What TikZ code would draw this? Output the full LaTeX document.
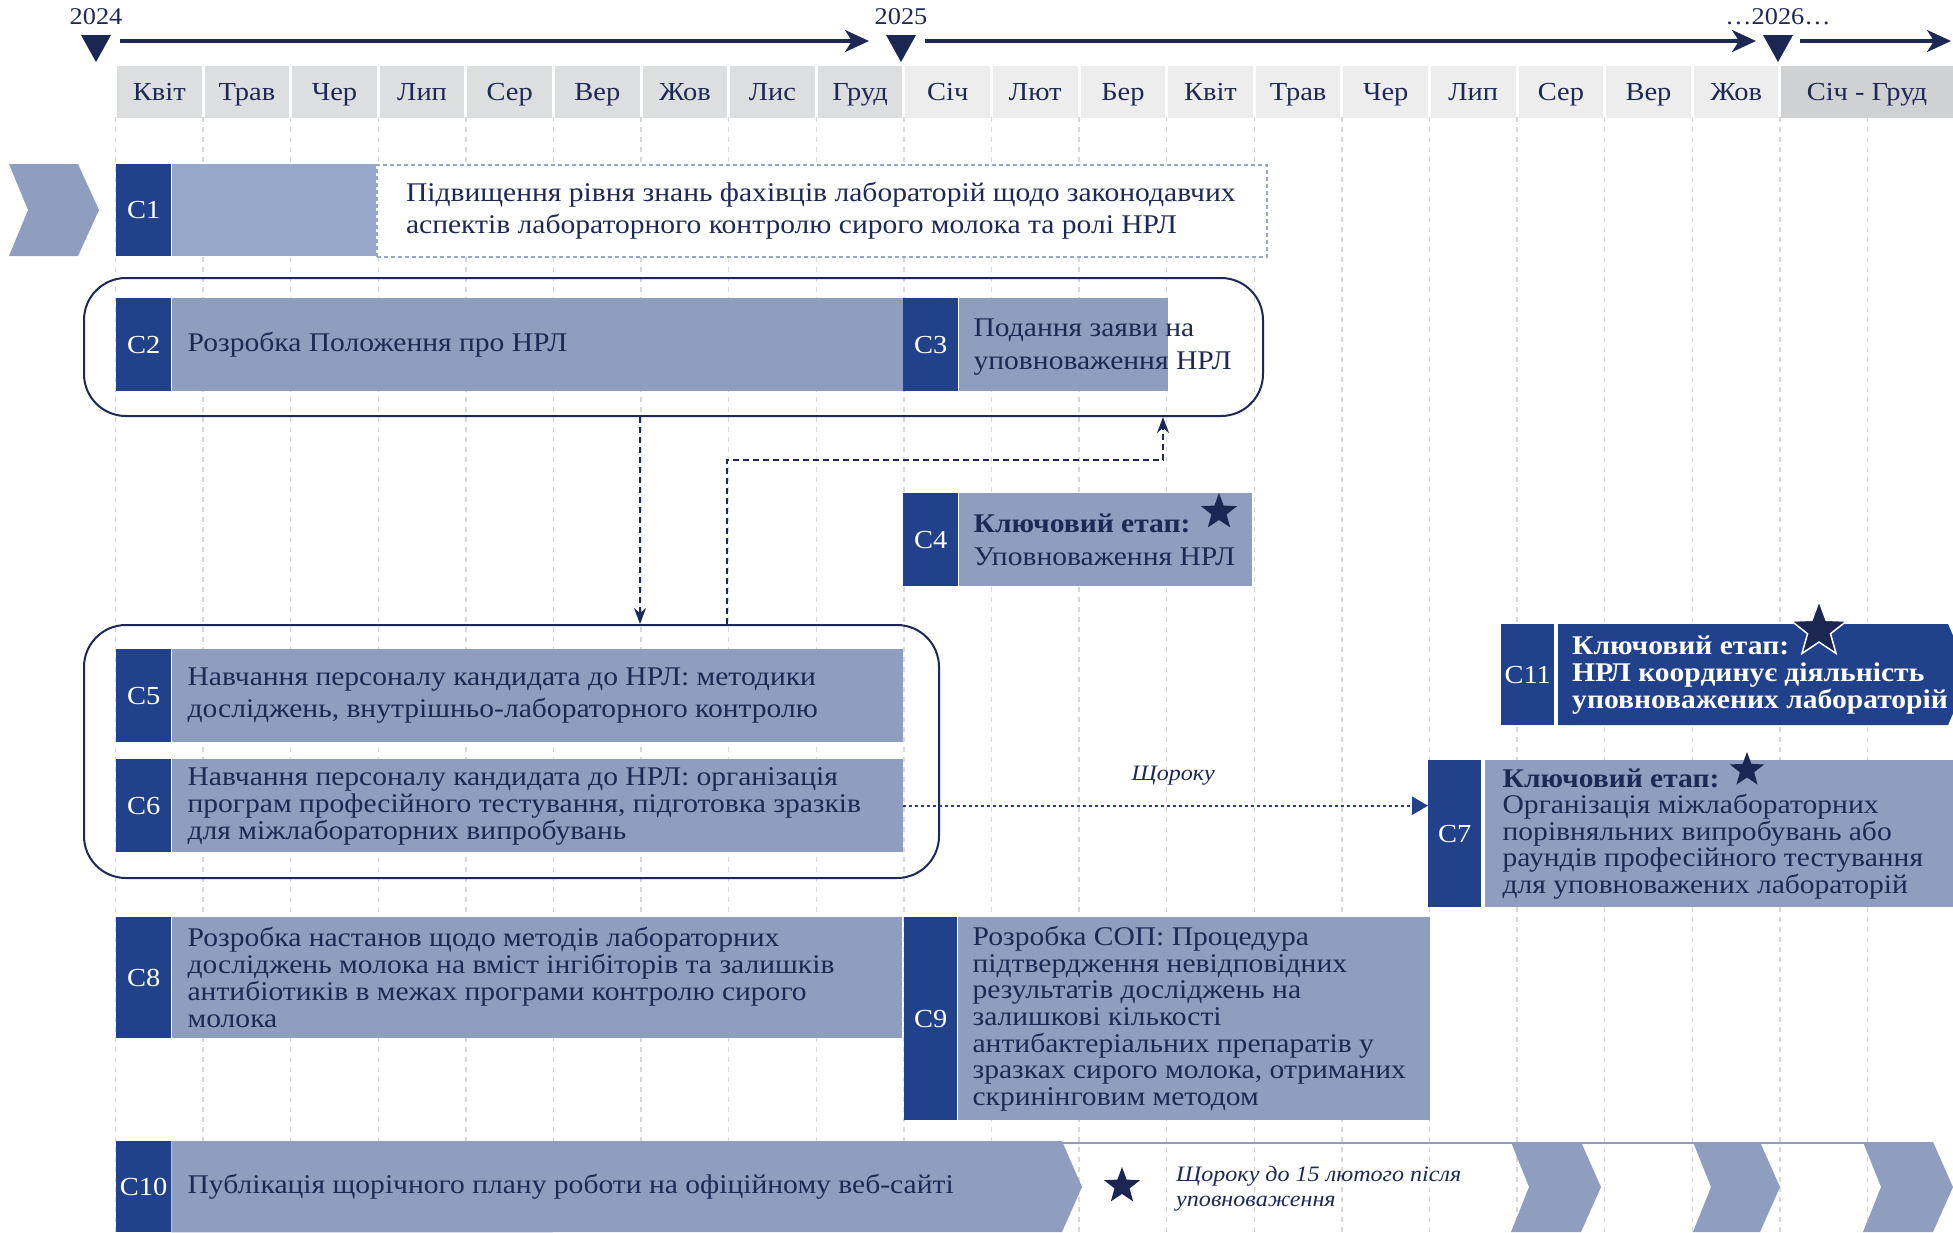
\documentclass[tikz,border=0pt]{standalone}
\usepackage{fontspec}
\setmainfont{Liberation Serif}[FakeStretch=1.095]
\usetikzlibrary{arrows.meta,shapes.geometric}

\definecolor{inkblue}{RGB}{29,41,84}
\definecolor{labblue}{RGB}{34,65,139}
\definecolor{barblue}{RGB}{143,157,190}
\definecolor{paleblue}{RGB}{152,168,203}
\definecolor{starblue}{RGB}{27,39,82}
\definecolor{headA}{RGB}{221,222,224}
\definecolor{headB}{RGB}{237,237,237}
\definecolor{headC}{RGB}{208,209,211}
\definecolor{gridgray}{RGB}{216,216,216}

\tikzset{
    labbox/.style={fill=labblue, text=white, anchor=north west, inner sep=0pt, font=\fontsize{26}{27}\selectfont},
    barbox/.style={fill=barblue, anchor=north west, inner sep=0pt},
    bartext/.style={anchor=west, align=left, text=inkblue, inner sep=0pt},
    grp/.style={draw=inkblue, line width=2pt, rounded corners=42pt, anchor=north west, inner sep=0pt},
    flow/.style={draw=inkblue, line width=1.8pt, dash pattern=on 6pt off 4pt, -{Stealth[length=16pt,width=12pt]}},
    yearly/.style={draw=labblue, line width=2.2pt, dash pattern=on 3pt off 3pt, -{Triangle[length=16pt,width=18pt]}},
    milestone/.style={star, star points=5, star point ratio=2.4, fill=starblue, inner sep=0pt},
    month/.style={minimum height=52pt, inner sep=0pt, text=inkblue, font=\fontsize{26}{28}\selectfont},
    yeararrow/.style={draw=inkblue, line width=3.5pt, -{Stealth[length=24pt,width=22pt,inset=7pt]}},
    note/.style={text=inkblue, inner sep=0pt, font=\fontsize{22}{25}\selectfont\itshape},
}

\begin{document}
\begin{tikzpicture}[x=1pt, y=-1pt]
    \useasboundingbox (0,0) rectangle (1953,1232);
    \clip (0,0) rectangle (1953,1232);

    \foreach \k in {0,...,21}
        \draw[gridgray, line width=1.3pt, dash pattern=on 5pt off 5pt] (115.5+87.6*\k,117) -- (115.5+87.6*\k,1232);

    \foreach \x/\yr [count=\j] in {96/2024,901/2025,1778/{\ldots2026\ldots}} {
            \coordinate (t\j) at (\x,35);
            \fill[starblue] (t\j) ++(-15,0) -- ++(30,0) -- ++(-15,27) -- cycle;
            \node[text=inkblue, font=\fontsize{24}{26}\selectfont] (yr\j) at (\x,17) {\yr};
        }
    \coordinate (tend) at (1951,41);
    \draw[yeararrow] ([shift={(24,6)}]t1) -- ([shift={(-32,6)}]t2);
    \draw[yeararrow] ([shift={(24,6)}]t2) -- ([shift={(-22,6)}]t3);
    \draw[yeararrow] ([shift={(22,6)}]t3) -- (tend);

    \foreach \m [count=\i from 0] in {Квіт,Трав,Чер,Лип,Сер,Вер,Жов,Лис,Груд,Січ,Лют,Бер,Квіт,Трав,Чер,Лип,Сер,Вер,Жов} {
            \ifnum\i<9 \def\shade{headA}\else\def\shade{headB}\fi
            \node[month, fill=\shade, minimum width=84.6pt, text depth=0pt, text height=0pt] (m\i) at (159.3+87.6*\i,91.5) {\raisebox{-9pt}{\m}};
        }
    \node[month, fill=headC, minimum width=172pt, text depth=0pt, text height=0pt] (m19) at (1867,91.5) {\raisebox{-9pt}{Січ - Груд}};

    \fill[barblue] (9,164) -- (78,164) -- (99,210) -- (78,256) -- (9,256) -- (28,210) -- cycle;
    \node[labbox, minimum width=55pt, minimum height=92pt] (c1l) at (116,164) {C1};
    \node[barbox, fill=paleblue, minimum width=204pt, minimum height=92pt] (c1b) at (c1l.north east) {};
    \node[anchor=north west, draw=paleblue, fill=white, line width=2.2pt, dash pattern=on 4pt off 3pt, minimum width=890pt, minimum height=92pt, inner sep=0pt] (c1d) at (c1b.north east) {};

    \foreach \n/\x/\y/\lw/\gap/\bw/\h in {2/116/298/55/0/732/93, 3/903/298/55/0/209/93, 4/903/493/55/0/293/93,
            5/116/649/55/0/731/93, 6/116/759/55/0/731/93, 7/1428/760/53/3/469/147,
            8/116/917/55/0/730/121, 9/904/917/53/0/472/203} {
            \node[labbox, minimum width=\lw pt, minimum height=\h pt] (c\n l) at (\x,\y) {C\n};
            \node[barbox, minimum width=\bw pt, minimum height=\h pt] (c\n b) at ([xshift=\gap pt]c\n l.north east) {};
        }

    \node[labbox, minimum width=55pt, minimum height=91pt] (c10l) at (116,1141) {C10};
    \fill[barblue] (c10l.north east) -- (1062,1141) -- (1082,1187) -- (1062,1232) -- (c10l.south east) -- cycle;
    \foreach \a/\b in {1511/1581, 1693/1760, 1863/1933}
        \fill[barblue] (\a,1142) -- (\b,1142) -- (\b+20,1187) -- (\b,1232) -- (\a,1232) -- (\a+18,1187) -- cycle;
    \draw[barblue, line width=2.5pt] (1062,1143) -- (1933,1143);

    \node[labbox, minimum width=53pt, minimum height=101pt] (c11l) at (1501,624) {C11};
    \fill[labblue] (1558,624) -- (1948,624) -- (1970,674.5) -- (1948,725) -- (1558,725) -- cycle;

    \node[grp, minimum width=1179pt, minimum height=138pt] (g23) at (83,277) {};
    \node[grp, minimum width=855pt, minimum height=253pt] (g56) at (83,624) {};

    \node[bartext, font=\fontsize{27}{32}\selectfont] (c1t) at ([xshift=30pt]c1d.west) {Підвищення рівня знань фахівців лабораторій щодо законодавчих\\аспектів лабораторного контролю сирого молока та ролі НРЛ};
    \node[bartext, font=\fontsize{27}{32}\selectfont] (c2t) at ([xshift=16pt]c2b.west) {Розробка Положення про НРЛ};
    \node[bartext, font=\fontsize{27}{33}\selectfont] (c3t) at ([xshift=15pt,yshift=-2pt]c3b.west) {Подання заяви на\\уповноваження НРЛ};
    \node[bartext, font=\fontsize{27}{33}\selectfont] (c4t) at ([xshift=15pt]c4b.west) {\textbf{Ключовий етап:}\\Уповноваження НРЛ};
    \node[bartext, font=\fontsize{27}{32}\selectfont] (c5t) at ([xshift=16pt]c5b.west) {Навчання персоналу кандидата до НРЛ: методики\\досліджень, внутрішньо-лабораторного контролю};
    \node[bartext, font=\fontsize{27}{27}\selectfont] (c6t) at ([xshift=16pt,yshift=-1pt]c6b.west) {Навчання персоналу кандидата до НРЛ: організація\\програм професійного тестування, підготовка зразків\\для міжлабораторних випробувань};
    \node[bartext, font=\fontsize{27}{26.5}\selectfont] (c7t) at ([xshift=18pt]c7b.west) {\textbf{Ключовий етап:}\\Організація міжлабораторних\\порівняльних випробувань або\\раундів професійного тестування\\для уповноважених лабораторій};
    \node[bartext, font=\fontsize{27}{27}\selectfont] (c8t) at ([xshift=16pt]c8b.west) {Розробка настанов щодо методів лабораторних\\досліджень молока на вміст інгібіторів та залишків\\антибіотиків в межах програми контролю сирого\\молока};
    \node[bartext, font=\fontsize{27}{26.7}\selectfont] (c9t) at ([xshift=15pt]c9b.west) {Розробка СОП: Процедура\\підтвердження невідповідних\\результатів досліджень на\\залишкові кількості\\антибактеріальних препаратів у\\зразках сирого молока, отриманих\\скринінговим методом};
    \node[bartext, font=\fontsize{27}{27}\selectfont] (c10t) at ([xshift=16pt]c10l.east) {Публікація щорічного плану роботи на офіційному веб-сайті};
    \node[bartext, text=white, font=\fontsize{27}{27}\selectfont\bfseries] (c11t) at (1572,675) {Ключовий етап:\\НРЛ координує діяльність\\уповноважених лабораторій};
    \node[note, anchor=west, align=left] (c10n) at (1176,1189) {Щороку до 15 лютого після\\уповноваження};

    \node[milestone, minimum size=38pt] (s4) at (1219,512) {};
    \node[milestone, minimum size=36pt] (s7) at (1747,770) {};
    \node[milestone, minimum size=58pt, draw=white, line width=1.5pt] (s11) at (1819,630) {};
    \node[milestone, minimum size=38pt] (s10) at (1122,1186) {};

    \coordinate (dn) at (640,0);
    \coordinate (up) at (727,0);
    \coordinate (upr) at (1163,0);
    \draw[flow] (g23.south -| dn) -- (g56.north -| dn);
    \draw[flow] (g56.north -| up) -- ++(0,-164) -| (g23.south -| upr);
    \draw[yearly] (c6b.east) -- (c6b.east -| c7l.west) node[note, pos=0.515, yshift=30pt] (c6n) {Щороку};
\end{tikzpicture}
\end{document}
